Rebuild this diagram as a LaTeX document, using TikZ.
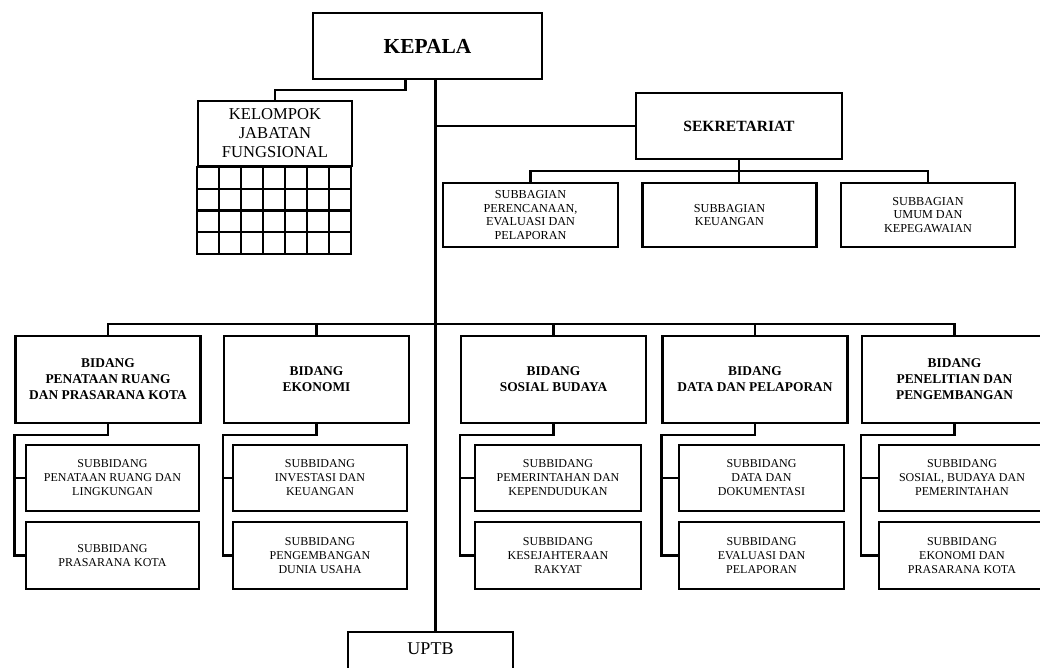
\documentclass[tikz,border=0pt]{standalone}
\usepackage{fontspec}
\setmainfont{Liberation Serif}
\usetikzlibrary{calc,positioning}

\tikzset{
  kotak/.style={draw,line width=1.1pt,align=center,inner sep=1pt},
  ukuran/.style 2 args={minimum width=#1*0.5pt,minimum height=#2*0.5pt},
  pimpinan/.style={kotak,font=\bfseries\fontsize{10.7}{12}\selectfont},
  sekre/.style={kotak,font=\bfseries\fontsize{7.8}{9}\selectfont},
  bidang/.style={kotak,ukuran={185}{87},font=\bfseries\fontsize{6.7}{8}\selectfont},
  subbag/.style={kotak,ukuran={174}{64},font=\fontsize{6.1}{6.8}\selectfont},
  subbid/.style={kotak,font=\fontsize{6}{7}\selectfont},
  garis/.style={line width=1.1pt}
}

\begin{document}
\begin{tikzpicture}[x=0.5pt,y=-0.5pt]
\useasboundingbox (0,0) rectangle (1040,668);
\clip (0,0) rectangle (1040,668);
%pimpinan
\node[pimpinan,ukuran={229}{66}] (kepala) at (427.5,46) {KEPALA};
\node[kotak,ukuran={154}{65},font=\fontsize{8.3}{9.5}\selectfont] (kjf) at (275,133.5) {KELOMPOK\\JABATAN\\FUNGSIONAL};
\node[sekre,ukuran={206}{66}] (sekretariat) at (739,126) {SEKRETARIAT};
\node[subbag,ukuran={175}{64}] (bag1) at (530.5,215) {SUBBAGIAN\\PERENCANAAN,\\EVALUASI DAN\\PELAPORAN};
\node[subbag] (bag2) at (729.5,215) {SUBBAGIAN\\KEUANGAN};
\node[subbag] (bag3) at (928,215) {SUBBAGIAN\\UMUM DAN\\KEPEGAWAIAN};
%bidang
\node[bidang] (b1) at (108,379.5) {BIDANG\\PENATAAN RUANG\\DAN PRASARANA KOTA};
\node[bidang] (b2) at (316.5,379.5) {BIDANG\\EKONOMI};
\node[bidang] (b3) at (553.5,379.5) {BIDANG\\SOSIAL BUDAYA};
\node[bidang] (b4) at (755,379.5) {BIDANG\\DATA DAN PELAPORAN};
\node[bidang] (b5) at (954.5,379.5) {BIDANG\\PENELITIAN DAN\\PENGEMBANGAN};
%subbidang
\node[subbid,ukuran={173}{66}] (ats1) at (112.5,478) {SUBBIDANG\\PENATAAN RUANG DAN\\LINGKUNGAN};
\node[subbid,ukuran={173}{67}] (bwh1) at (112.5,555.5) {SUBBIDANG\\PRASARANA KOTA};
\node[subbid,ukuran={174}{66}] (ats2) at (320,478) {SUBBIDANG\\INVESTASI DAN\\KEUANGAN};
\node[subbid,ukuran={174}{67}] (bwh2) at (320,555.5) {SUBBIDANG\\PENGEMBANGAN\\DUNIA USAHA};
\node[subbid,ukuran={166}{66}] (ats3) at (558,478) {SUBBIDANG\\PEMERINTAHAN DAN\\KEPENDUDUKAN};
\node[subbid,ukuran={166}{67}] (bwh3) at (558,555.5) {SUBBIDANG\\KESEJAHTERAAN\\RAKYAT};
\node[subbid,ukuran={165}{66}] (ats4) at (761.5,478) {SUBBIDANG\\DATA DAN\\DOKUMENTASI};
\node[subbid,ukuran={165}{67}] (bwh4) at (761.5,555.5) {SUBBIDANG\\EVALUASI DAN\\PELAPORAN};
\node[subbid,ukuran={166}{66}] (ats5) at (962,478) {SUBBIDANG\\SOSIAL, BUDAYA DAN\\PEMERINTAHAN};
\node[subbid,ukuran={166}{67}] (bwh5) at (962,555.5) {SUBBIDANG\\EKONOMI DAN\\PRASARANA KOTA};
\node[kotak,ukuran={165}{1},anchor=north,font=\fontsize{9}{11}\selectfont,text height=8pt,text depth=25pt,inner ysep=3pt] (uptb) at (430.5,631) {UPTB};
%kotak-kotak jabatan fungsional
\draw[garis] (kjf.south west) rectangle ++(154,87);
\foreach \k in {1,...,6}
  \draw[garis] ($(kjf.south west)+(\k*22,0)$) -- ++(0,87);
\foreach \k in {1,...,3}
  \draw[garis] ($(kjf.south west)+(0,\k*21.75)$) -- ++(154,0);
%garis
\coordinate (poros) at ([xshift=4pt]kepala.south);
\draw[garis] (poros) -- (poros |- uptb.north);
\draw[garis] ([xshift=-11pt]kepala.south) -- ++(0,10) -| (kjf.north);
\draw[garis] (poros |- sekretariat.west) -- (sekretariat.west);
\draw[garis] (sekretariat.south) -- (sekretariat.south |- bag2.north);
\draw[garis] (bag1.north) -- ++(0,-11) -| (bag3.north);
\draw[garis] (b1.north) -- ++(0,-11) -| (b5.north);
\foreach \i in {2,3,4}
  \draw[garis] (b\i.north) -- ++(0,-11);
\foreach \i in {1,...,5}{
  \draw[garis] (b\i.south) -- ++(0,11) -| (bwh\i.west -| b\i.west) -- (bwh\i.west);
  \draw[garis] (ats\i.west -| b\i.west) -- (ats\i.west);
}
\end{tikzpicture}
\end{document}
